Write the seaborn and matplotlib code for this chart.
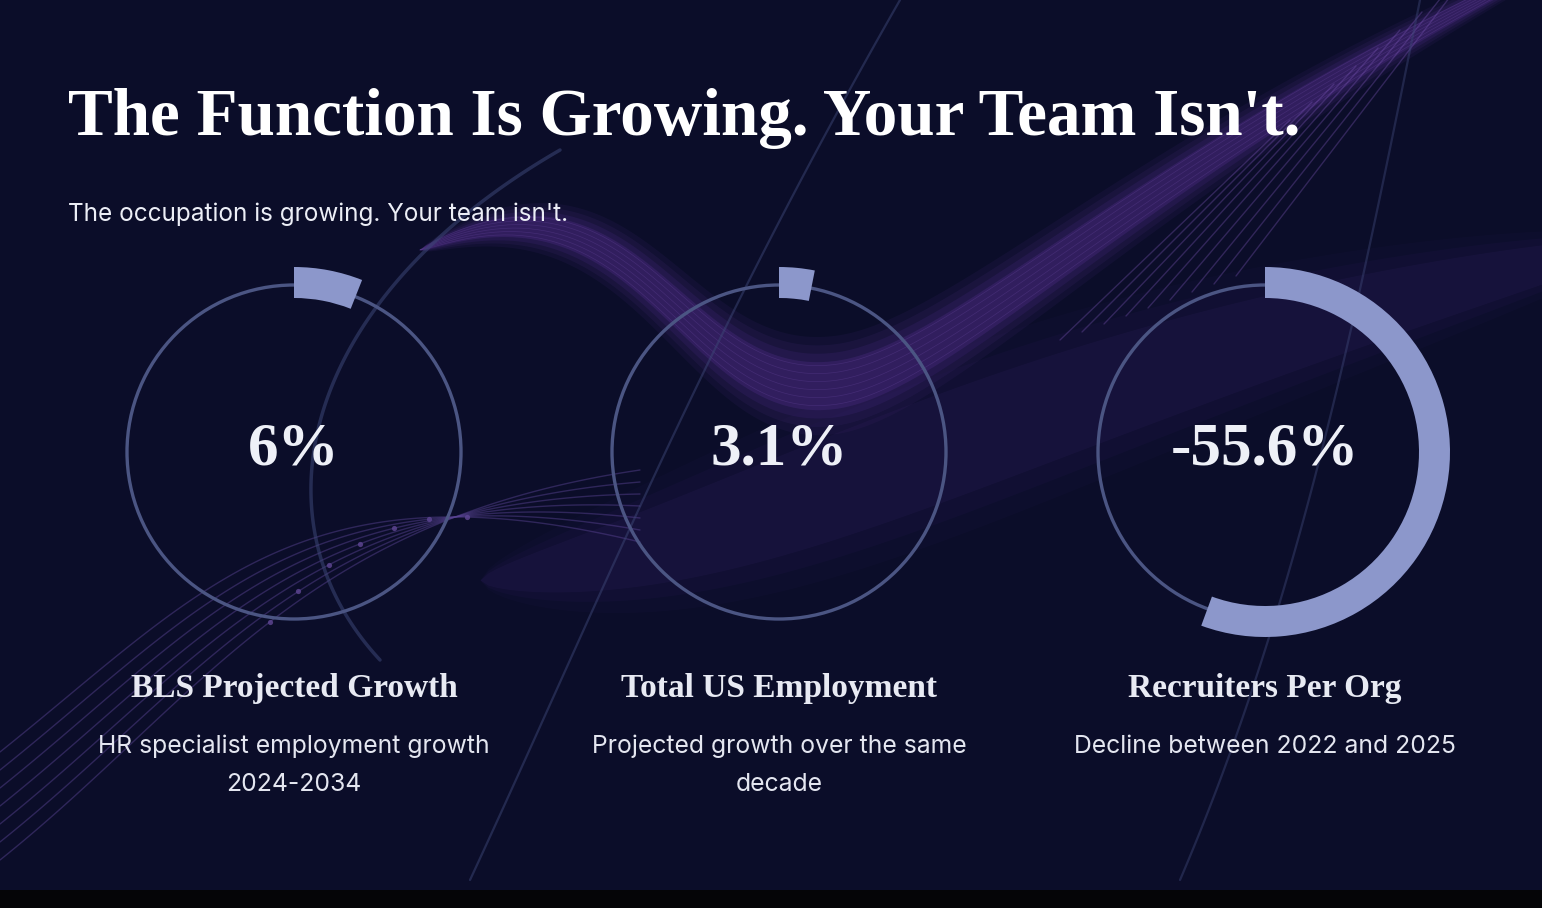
import numpy as np
import matplotlib
matplotlib.use("Agg")
import matplotlib.pyplot as plt
import seaborn as sns

# data
gauge_values = [6.0, 3.1, -55.6]
gauge_labels = ["6%", "3.1%", "-55.6%"]
gauge_titles = ["BLS Projected Growth", "Total US Employment", "Recruiters Per Org"]
gauge_notes = [
    "HR specialist employment growth\n2024-2034",
    "Projected growth over the same\ndecade",
    "Decline between 2022 and 2025",
]
title = "The Function Is Growing. Your Team Isn't."
subtitle = "The occupation is growing. Your team isn't."

BG = "#0b0d29"
ARC = "#8c97cb"
RING = "#4b5583"
SERIF = ["Liberation Serif", "DejaVu Serif"]
SANS = ["Inter", "DejaVu Sans"]

sns.set_theme(style="white")
plt.rcParams["font.family"] = SANS

W, H = 1542, 908


def bezier(p0, p1, p2, p3, n=120):
    s = np.linspace(0, 1, n)[:, None]
    pts = ((1 - s) ** 3 * np.array(p0) + 3 * (1 - s) ** 2 * s * np.array(p1)
           + 3 * (1 - s) * s ** 2 * np.array(p2) + s ** 3 * np.array(p3))
    return pts[:, 0], pts[:, 1]


def band(ax, x, y, half, color, alpha, layers=4):
    # tapered translucent band along a centre line
    taper = np.sin(np.linspace(0, np.pi, len(x))) ** 0.6
    for k in range(layers):
        w = half * taper * (1 + 0.35 * k)
        ax.fill_between(x, y - w, y + w, color=color,
                        alpha=alpha / (k + 1.5), lw=0)


fig = plt.figure(figsize=(W / 100, H / 100), dpi=100)
fig.patch.set_facecolor(BG)

# background layer in pixel coordinates
bg = fig.add_axes([0, 0, 1, 1])
bg.set_xlim(0, W)
bg.set_ylim(H, 0)
bg.axis("off")
bg.set_facecolor(BG)

# purple ribbon (decoration)
x1, y1 = bezier((420, 250), (640, 150), (680, 400), (830, 385))
x2, y2 = bezier((830, 385), (950, 375), (1150, 150), (1600, -60))
rx, ry = np.r_[x1, x2[1:]], np.r_[y1, y2[1:]]
band(bg, rx, ry, 24, "#52308c", 0.45)
taper = np.sin(np.linspace(0, np.pi, len(rx))) ** 0.6
for off in np.linspace(-1, 1, 6):
    bg.plot(rx, ry + 20 * off * taper, color="#7a55b5", lw=0.5, alpha=0.25)

# lower faint band
x3, y3 = bezier((480, 580), (800, 540), (1000, 380), (1650, 240))
band(bg, x3, y3, 55, "#3a2470", 0.22, layers=3)

# circuit lines on the left
for i in range(7):
    cx0, cy0 = bezier((0, 860 - i * 18), (200, 700 - i * 18),
                      (300, 520 - i * 10), (640, 470 + i * 12))
    bg.plot(cx0, cy0, color="#5b4596", lw=1.0, alpha=0.45)
    bg.scatter(cx0[60 + i * 6], cy0[60 + i * 6], s=14, color="#6d4fa3",
               alpha=0.7, lw=0)

# streak lines upper right
for i in range(9):
    x0 = 1060 + i * 22
    bg.plot([x0, x0 + 230], [340 - i * 8, 120 - i * 18],
            color="#7a55b5", lw=1.0, alpha=0.35)

# long thin curves
lx, ly = bezier((380, 660), (250, 520), (300, 300), (560, 150))
bg.plot(lx, ly, color="#3c4676", lw=2.5, alpha=0.55)
lx, ly = bezier((470, 880), (600, 600), (700, 350), (900, 0))
bg.plot(lx, ly, color="#3c4676", lw=1.6, alpha=0.5)
lx, ly = bezier((1180, 880), (1300, 600), (1360, 300), (1420, 0))
bg.plot(lx, ly, color="#3c4676", lw=1.6, alpha=0.45)

# bottom dark strip
bg.fill_between([0, W], [890, 890], [H, H], color="#050507", lw=0)

# titles
bg.text(68, 135, title, fontsize=48.3, fontweight="bold", color="white",
        family=SERIF, va="baseline", ha="left")
bg.text(68, 214, subtitle, fontsize=17.5, color="#eceef6",
        va="center", ha="left")

centers_x = [294, 779, 1265]
cy = 452

for cx, val, lab, ttl, note in zip(centers_x, gauge_values, gauge_labels,
                                   gauge_titles, gauge_notes):
    ax = fig.add_axes([(cx - 200) / W, (H - cy - 200) / H, 400 / W, 400 / H])
    share = abs(val)
    ax.pie([share, 100 - share], colors=[ARC, "none"], startangle=90,
           counterclock=False, radius=185,
           wedgeprops=dict(width=31, linewidth=0))
    ring = plt.Circle((0, 0), 167, fill=False, color=RING, lw=2.4, zorder=0)
    ax.add_patch(ring)
    ax.set_xlim(-200, 200)
    ax.set_ylim(-200, 200)
    ax.axis("off")
    ax.text(0, 2, lab, fontsize=44, fontweight="bold", color="#eef0f7",
            family=SERIF, ha="center", va="center")

    bg.text(cx, 688, ttl, fontsize=24, fontweight="bold", color="#e8eaf3",
            family=SERIF, ha="center", va="center")
    bg.text(cx, 735, note, fontsize=17.8, color="#e4e6f0",
            ha="center", va="top", linespacing=1.8)

fig.savefig("out.png", dpi=100, facecolor=BG)
